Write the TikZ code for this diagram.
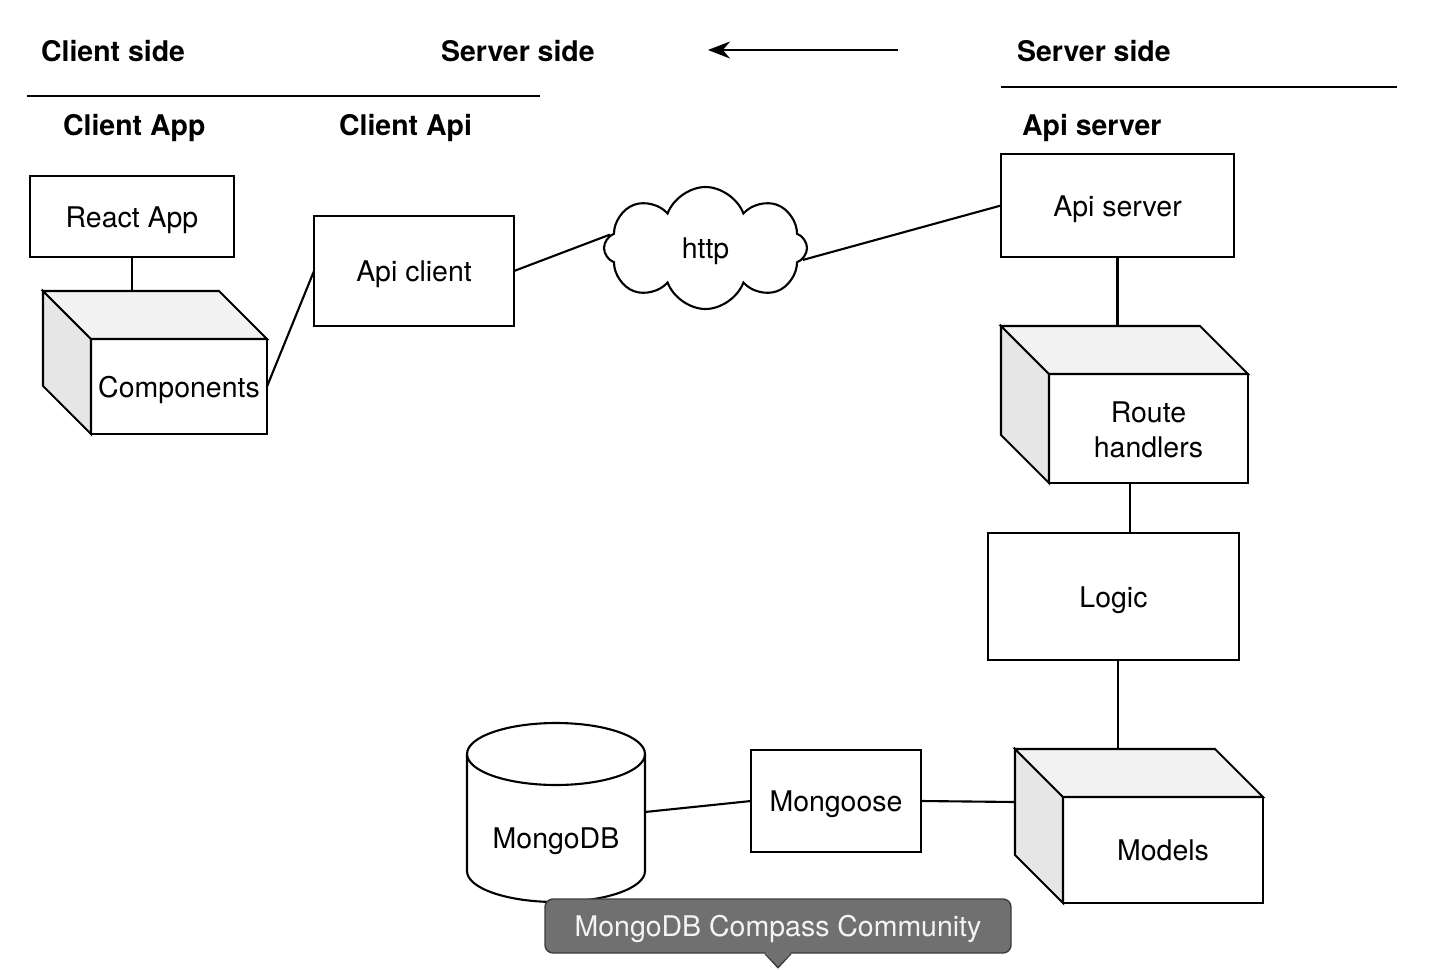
\documentclass[tikz,border=0pt]{standalone}
\usepackage{fontspec}
\setmainfont{TeX Gyre Heros}
\usetikzlibrary{shapes.symbols,arrows.meta}
\definecolor{sideface}{HTML}{E6E6E6}
\definecolor{topface}{HTML}{F2F2F2}
\definecolor{tipfill}{HTML}{707070}
\definecolor{tipline}{HTML}{3C3C3C}
\definecolor{tiptext}{HTML}{F4F4F4}
\begin{document}
\begin{tikzpicture}[x=1mm, y=-1mm, line width=0.6pt,
	every node/.style={font=\fontsize{8.1pt}{9.7pt}\selectfont},
	txt/.style={text height=2.4mm, text depth=0.25mm},
	box/.style={txt, draw, fill=white, inner sep=1pt, outer sep=0pt, align=center},
	head/.style={anchor=west, inner sep=0pt, text height=2.1mm, text depth=0mm, font=\fontsize{8.1pt}{9.7pt}\selectfont\bfseries},
	tipbox/.style={txt, fill=tipfill, draw=tipline, line width=0.4pt, rounded corners=0.8mm, text=tiptext, minimum width=46.6mm, minimum height=5.4mm, inner sep=0pt}]
	\useasboundingbox (0,0) rectangle (145.2,97);

	\node (hclient) [head] at (4.0,5.1) {Client side};
	\node (hserver) [head] at (44.0,5.1) {Server side};
	\node (hserverb) [head] at (101.6,5.1) {Server side};
	\node (happ) [head] at (6.2,12.5) {Client App};
	\node (hapi) [head] at (33.8,12.5) {Client Api};
	\node (hapis) [head] at (102.1,12.5) {Api server};
	\draw (2.7,9.6) -- (54.0,9.6);
	\draw (100.1,8.7) -- (139.7,8.7);
	\coordinate (arrfrom) at (89.8,5.0);
	\coordinate (arrto) at (70.8,5.0);
	\draw[-{Stealth[length=2.2mm,width=1.7mm]}] (arrfrom) -- (arrto);

	\node (react) [box, minimum width=20.4mm, minimum height=8.1mm] at (13.2,21.65) {React App};
	\node (comp) [box, minimum width=17.6mm, minimum height=9.5mm] at (17.9,38.65) {Components};
	\filldraw[fill=sideface] (comp.north west) -- ++(-4.8,-4.8) -- ++(0,9.5) -- (comp.south west) -- cycle;
	\filldraw[fill=topface] (comp.north west) -- ++(-4.8,-4.8) -- ++(17.6,0) -- (comp.north east) -- cycle;
	\coordinate (comptop) at ([yshift=4.8mm]comp.north);
	\node (apic) [box, minimum width=20.0mm, minimum height=11.0mm] at (41.4,27.1) {Api client};
	\node (http) [txt, cloud, draw, fill=white, cloud puffs=8, cloud puff arc=140, minimum width=20.3mm, minimum height=12.2mm, inner sep=0pt] at (70.55,24.8) {http};

	\node (apis) [box, minimum width=23.3mm, minimum height=10.3mm] at (111.75,20.55) {Api server};
	\node (route) [box, text height=5.95mm, minimum width=19.9mm, minimum height=10.9mm] at (114.85,42.85) {Route\\handlers};
	\filldraw[fill=sideface] (route.north west) -- ++(-4.8,-4.8) -- ++(0,10.9) -- (route.south west) -- cycle;
	\filldraw[fill=topface] (route.north west) -- ++(-4.8,-4.8) -- ++(19.9,0) -- (route.north east) -- cycle;
	\coordinate (routetop) at ([yshift=4.8mm]route.north);
	\node (logic) [box, minimum width=25.1mm, minimum height=12.7mm] at (111.35,59.65) {Logic};
	\node (models) [box, minimum width=20.0mm, minimum height=10.6mm] at (116.3,85.0) {Models};
	\filldraw[fill=sideface] (models.north west) -- ++(-4.8,-4.8) -- ++(0,10.6) -- (models.south west) -- cycle;
	\filldraw[fill=topface] (models.north west) -- ++(-4.8,-4.8) -- ++(20.0,0) -- (models.north east) -- cycle;
	\coordinate (modelstop) at ([yshift=4.8mm]models.north);
	\node (mong) [box, minimum width=17.0mm, minimum height=10.2mm] at (83.6,80.1) {Mongoose};

	\node (mdb) [minimum width=17.8mm, minimum height=18mm, inner sep=0pt, outer sep=0pt] at (55.6,81.2) {};
	\begin{scope}[shift={(mdb.center)}]
		\filldraw[fill=white] (-8.9,-5.8) -- (-8.9,5.9) arc (180:360:8.9mm and 3.1mm) -- (8.9,-5.8) arc (0:180:8.9mm and 3.1mm) -- cycle;
		\draw (-8.9,-5.8) arc (180:360:8.9mm and 3.1mm);
	\end{scope}
	\node (mdbtext) [txt] at ([yshift=-2.6mm]mdb.center) {MongoDB};

	\draw (react.south) -- (react.south |- comptop);
	\draw (comp.east) -- (apic.west);
	\draw (apic.east) -- (http.172);
	\draw (http.-7) -- (apis.west);
	\draw (apis.south) -- (apis.south |- routetop);
	\draw ([xshift=-1.85mm]route.south) -- ([xshift=-1.85mm]route.south |- logic.north);
	\draw ([xshift=0.45mm]logic.south) -- ([xshift=0.45mm]logic.south |- modelstop);
	\draw (mong.east) -- ([shift={(-4.8,-4.8)}]models.west);
	\draw (mdb.east) -- (mong.west);

	\node (tooltip) [tipbox] at (77.8,92.6) {MongoDB Compass Community};
	\fill[tipfill] ([xshift=-1.4mm,yshift=0.3mm]tooltip.south) -- ([yshift=-1.4mm]tooltip.south) -- ([xshift=1.4mm,yshift=0.3mm]tooltip.south) -- cycle;
	\draw[tipline, line width=0.4pt] ([xshift=-1.3mm]tooltip.south) -- ([yshift=-1.4mm]tooltip.south) -- ([xshift=1.3mm]tooltip.south);
\end{tikzpicture}
\end{document}
